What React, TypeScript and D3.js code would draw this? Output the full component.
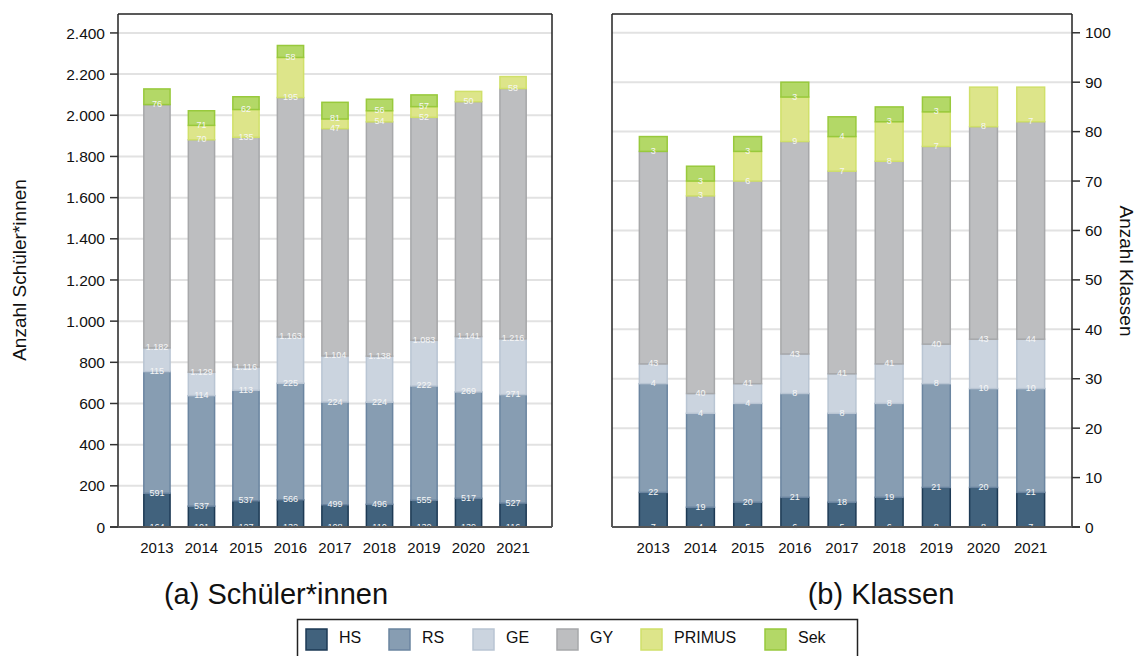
import * as d3 from "d3";

// data
const years = ["2013", "2014", "2015", "2016", "2017", "2018", "2019", "2020", "2021"];
const keys = ["HS", "RS", "GE", "GY", "PRIMUS", "Sek"];

const schuelerHS = [164, 101, 127, 132, 108, 110, 130, 139, 116];
const schuelerRS = [591, 537, 537, 566, 499, 496, 555, 517, 527];
const schuelerGE = [115, 114, 113, 225, 224, 224, 222, 269, 271];
const schuelerGY = [1182, 1129, 1116, 1163, 1104, 1138, 1083, 1141, 1216];
const schuelerPRIMUS = [0, 70, 135, 195, 47, 54, 52, 50, 58];
const schuelerSek = [76, 71, 62, 58, 81, 56, 57, 0, 0];

const klassenHS = [7, 4, 5, 6, 5, 6, 8, 8, 7];
const klassenRS = [22, 19, 20, 21, 18, 19, 21, 20, 21];
const klassenGE = [4, 4, 4, 8, 8, 8, 8, 10, 10];
const klassenGY = [43, 40, 41, 43, 41, 41, 40, 43, 44];
const klassenPRIMUS = [0, 3, 6, 9, 7, 8, 7, 8, 7];
const klassenSek = [3, 3, 3, 3, 4, 3, 3, 0, 0];

const schuelerTicks = d3.range(0, 2401, 200);
const klassenTicks = d3.range(0, 101, 10);

const fills: Record<string, string> = {
  HS: "#41627d",
  RS: "#879db2",
  GE: "#cbd4df",
  GY: "#bdbec0",
  PRIMUS: "#dde58a",
  Sek: "#b3d867",
};
const strokes: Record<string, string> = {
  HS: "#1d3a55",
  RS: "#6b85a0",
  GE: "#b9c5d3",
  GY: "#a7a8aa",
  PRIMUS: "#d0e06a",
  Sek: "#98c93c",
};

const de = d3.formatLocale({ decimal: ",", thousands: ".", grouping: [3], currency: ["", "€"] });
const fmt = de.format(",d");

const FONT = "'Liberation Sans', Arial, sans-serif";

function buildRows(cols: number[][]) {
  return years.map((y, i) => {
    const row: any = { year: y };
    keys.forEach((k, j) => (row[k] = cols[j][i]));
    return row;
  });
}

interface PanelProps {
  rows: any[];
  x0: number;
  x1: number;
  yMax: number;
  ticks: number[];
  side: "left" | "right";
  title: string;
  yLabel: string;
}

const top = 14;
const bottom = 527;

function Panel({ rows, x0, x1, yMax, ticks, side, title, yLabel }: PanelProps) {
  const x = d3.scaleBand().domain(years).range([x0, x1]).paddingInner(0.41).paddingOuter(0.58);
  const y = d3.scaleLinear().domain([0, yMax]).range([bottom, top]);
  const stacked = d3.stack<any>().keys(keys)(rows);
  const axisX = side === "left" ? x0 : x1;
  const dir = side === "left" ? -1 : 1;

  return (
    <g>
      {ticks.map((t) => (
        <line key={"g" + t} x1={x0} x2={x1} y1={y(t)} y2={y(t)} stroke="#e2e2e2" strokeWidth={2} />
      ))}
      {stacked.map((s) =>
        s.map((d, i) =>
          d[1] - d[0] > 0 ? (
            <rect
              key={s.key + i}
              x={x(years[i])!}
              width={x.bandwidth()}
              y={y(d[1])}
              height={y(d[0]) - y(d[1])}
              fill={fills[s.key]}
              stroke={strokes[s.key]}
              strokeWidth={1.5}
            />
          ) : null
        )
      )}
      {stacked.map((s) =>
        s.map((d, i) =>
          d[1] - d[0] > 0 ? (
            <text
              key={"l" + s.key + i}
              x={x(years[i])! + x.bandwidth() / 2}
              y={y(d[0]) + 2.5}
              textAnchor="middle"
              fontSize={9}
              fill="#f6f6f6"
              fontFamily={FONT}
            >
              {fmt(d[1] - d[0])}
            </text>
          ) : null
        )
      )}
      {/* frame */}
      <line x1={x0} x2={x1} y1={top} y2={top} stroke="#222" strokeWidth={1.5} />
      <line x1={x0} x2={x0} y1={top} y2={bottom} stroke="#222" strokeWidth={1.5} />
      <line x1={x1} x2={x1} y1={top} y2={bottom} stroke="#222" strokeWidth={1.5} />
      <line x1={x0 - (side === "left" ? 8 : 0)} x2={x1 + (side === "right" ? 8 : 0)} y1={bottom} y2={bottom} stroke="#555" strokeWidth={2} />
      {ticks.map((t) => (
        <g key={"t" + t}>
          <line x1={axisX} x2={axisX + dir * 8} y1={y(t)} y2={y(t)} stroke="#333" strokeWidth={1.5} />
          <text
            x={axisX + dir * 13}
            y={y(t)}
            dy="0.36em"
            textAnchor={side === "left" ? "end" : "start"}
            fontSize={15.5}
            fontFamily={FONT}
            fill="#111"
          >
            {fmt(t)}
          </text>
        </g>
      ))}
      {years.map((yr) => (
        <text
          key={"x" + yr}
          x={x(yr)! + x.bandwidth() / 2}
          y={553}
          textAnchor="middle"
          fontSize={15}
          fontFamily={FONT}
          fill="#111"
        >
          {yr}
        </text>
      ))}
      <text
        transform={
          side === "left"
            ? `translate(${x0 - 99},270) rotate(-90)`
            : `translate(${x1 + 55},271) rotate(90)`
        }
        textAnchor="middle"
        dy="0.35em"
        fontSize={19}
        fontFamily={FONT}
        fill="#111"
      >
        {yLabel}
      </text>
      <text x={(x0 + x1) / 2 + (side === "left" ? -59 : 39)} y={604} textAnchor="middle" fontSize={29} fontFamily={FONT} fill="#111">
        {title}
      </text>
    </g>
  );
}

const legendX = [306, 389, 473, 557, 641, 765];

export default function App() {
  const schuelerRows = buildRows([schuelerHS, schuelerRS, schuelerGE, schuelerGY, schuelerPRIMUS, schuelerSek]);
  const klassenRows = buildRows([klassenHS, klassenRS, klassenGE, klassenGY, klassenPRIMUS, klassenSek]);

  return (
    <svg
      width={1140}
      height={656}
      style={{ position: "absolute", left: 0, top: 0, background: "#fff" }}
    >
      <Panel
        rows={schuelerRows}
        x0={118}
        x1={552}
        yMax={2492}
        ticks={schuelerTicks}
        side="left"
        title="(a) Schüler*innen"
        yLabel="Anzahl Schüler*innen"
      />
      <Panel
        rows={klassenRows}
        x0={612}
        x1={1072}
        yMax={103.8}
        ticks={klassenTicks}
        side="right"
        title="(b) Klassen"
        yLabel="Anzahl Klassen"
      />
      <rect x={297.5} y={619.5} width={560} height={40} fill="none" stroke="#222" strokeWidth={1.5} />
      {keys.map((k, i) => (
        <g key={"lg" + k}>
          <rect x={legendX[i]} y={629} width={21} height={21} fill={fills[k]} stroke={strokes[k]} strokeWidth={1.5} />
          <text x={legendX[i] + 33} y={643} fontSize={16} fontFamily={FONT} fill="#111">
            {k}
          </text>
        </g>
      ))}
    </svg>
  );
}
